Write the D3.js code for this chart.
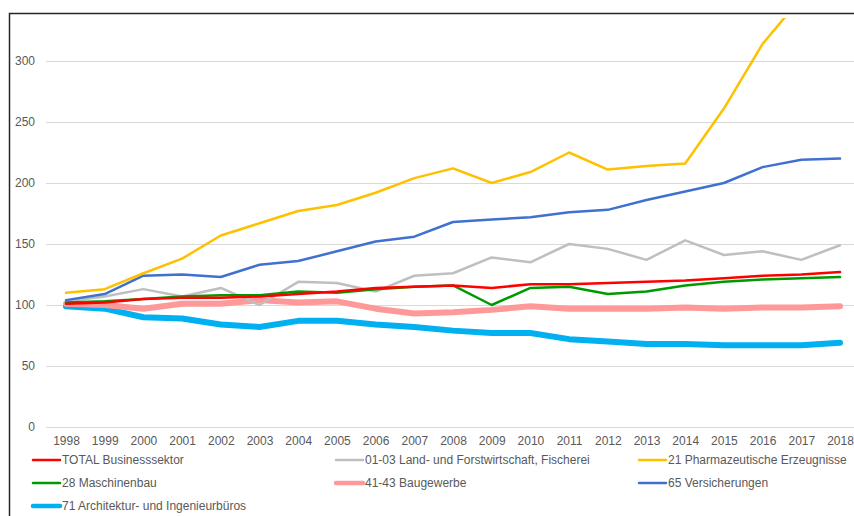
<!DOCTYPE html>
<html>
<head>
<meta charset="utf-8">
<script src="https://d3js.org/d3.v7.min.js"></script>
<style>
  body { margin: 0; background: #fff; }
  svg { display: block; font-family: "Liberation Sans", Arial, sans-serif; }
</style>
</head>
<body>
<div id="chart"></div>
<script>
const width = 854, height = 516;

const years = d3.range(1998, 2019).map(String);
const yTicks = [0, 50, 100, 150, 200, 250, 300];

// index values
const total = [101, 102, 105, 106, 106, 107, 109, 111, 114, 115, 116, 114, 117, 117, 118, 119, 120, 122, 124, 125, 127];
const land = [103, 107, 113, 107, 114, 100, 119, 118, 111, 124, 126, 139, 135, 150, 146, 137, 153, 141, 144, 137, 149];
const pharma = [110, 113, 126, 138, 157, 167, 177, 182, 192, 204, 212, 200, 209, 225, 211, 214, 216, 261, 314, 352, 380];
const maschinen = [102, 103, 105, 107, 108, 108, 111, 110, 113, 115, 116, 100, 114, 115, 109, 111, 116, 119, 121, 122, 123];
const bau = [101, 100, 97, 101, 101, 104, 102, 103, 97, 93, 94, 96, 99, 97, 97, 97, 98, 97, 98, 98, 99];
const versich = [104, 109, 124, 125, 123, 133, 136, 144, 152, 156, 168, 170, 172, 176, 178, 186, 193, 200, 213, 219, 220];
const archi = [99, 97, 90, 89, 84, 82, 87, 87, 84, 82, 79, 77, 77, 72, 70, 68, 68, 67, 67, 67, 69];

const series = [
  { name: "TOTAL Businesssektor", values: total, color: "#ff0000", w: 2.5 },
  { name: "01-03 Land- und Forstwirtschaft, Fischerei", values: land, color: "#bfbfbf", w: 2.5 },
  { name: "21 Pharmazeutische Erzeugnisse", values: pharma, color: "#ffc000", w: 2.5 },
  { name: "28 Maschinenbau", values: maschinen, color: "#009a00", w: 2.5 },
  { name: "41-43 Baugewerbe", values: bau, color: "#ff9999", w: 6 },
  { name: "65 Versicherungen", values: versich, color: "#4070d0", w: 2.5 },
  { name: "71 Architektur- und Ingenieurbüros", values: archi, color: "#00b0f0", w: 6 }
];

// draw order: thick ones under the thin ones
const drawOrder = [6, 4, 1, 3, 0, 5, 2];

const x = d3.scalePoint().domain(years).range([66, 840]);
const y = d3.scaleLinear().domain([0, 50]).range([427, 366]);

const svg = d3.select("#chart").append("svg")
  .attr("width", width).attr("height", height);

// frame of the cropped chart
svg.append("path")
  .attr("d", "M9.5," + height + "V13.5H" + width)
  .attr("fill", "none").attr("stroke", "#262626").attr("stroke-width", 1.5);

svg.append("defs").append("clipPath").attr("id", "clip")
  .append("rect").attr("x", 40).attr("y", 18).attr("width", width - 40).attr("height", 420);

// gridlines + y labels
const yAxis = svg.append("g")
  .attr("transform", "translate(46,0)")
  .call(d3.axisLeft(y).tickValues(yTicks).tickSize(-(width - 46)).tickPadding(11));
yAxis.select(".domain").remove();
yAxis.selectAll(".tick line").attr("stroke", "#d9d9d9").attr("stroke-width", 1);
yAxis.selectAll(".tick text").attr("fill", "#595959").attr("font-size", 12);

// x labels
const xAxis = svg.append("g")
  .attr("transform", "translate(0,427)")
  .call(d3.axisBottom(x).tickSize(0).tickPadding(9));
xAxis.select(".domain").remove();
xAxis.selectAll(".tick text").attr("fill", "#595959").attr("font-size", 12);

const line = d3.line()
  .x((d, i) => x(years[i]))
  .y(d => y(d));

svg.append("g").attr("clip-path", "url(#clip)")
  .selectAll("path")
  .data(drawOrder.map(i => series[i]))
  .join("path")
  .attr("d", d => line(d.values))
  .attr("fill", "none")
  .attr("stroke", d => d.color)
  .attr("stroke-width", d => d.w)
  .attr("stroke-linejoin", "round")
  .attr("stroke-linecap", "round");

// legend, three columns
const legendX = [33, 336, 639], legendY = [460, 483, 506];
const legend = svg.append("g")
  .selectAll("g")
  .data(series)
  .join("g")
  .attr("transform", (d, i) => `translate(${legendX[i % 3]},${legendY[Math.floor(i / 3)]})`);

legend.append("line")
  .attr("x1", 0).attr("x2", 27)
  .attr("stroke", d => d.color)
  .attr("stroke-width", d => d.w === 6 ? 4.5 : 2.5)
  .attr("stroke-linecap", "round");

legend.append("text")
  .attr("x", 29).attr("dy", "0.35em")
  .attr("fill", "#595959").attr("font-size", 12)
  .text(d => d.name);
</script>
</body>
</html>
